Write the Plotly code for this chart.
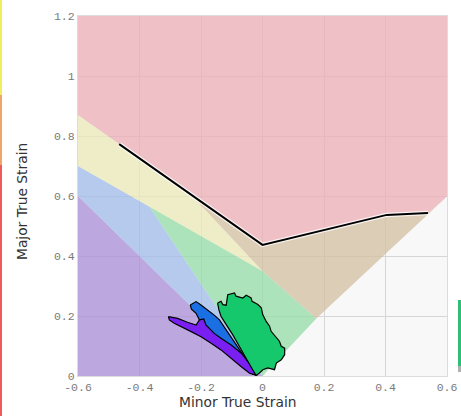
import plotly.graph_objects as go

# ---------------- data ----------------
x_ticks = [-0.6, -0.4, -0.2, 0, 0.2, 0.4, 0.6]
x_tick_labels = ["-0.6", "-0.4", "-0.2", "0", "0.2", "0.4", "0.6"]
y_ticks = [0, 0.2, 0.4, 0.6, 0.8, 1.0, 1.2]
y_tick_labels = ["0", "0.2", "0.4", "0.6", "0.8", "1", "1.2"]

x_title = "Minor True Strain"
y_title = "Major True Strain"

# forming limit curve
flc_x = [-0.466, 0.0, 0.404, 0.538]
flc_y = [0.773, 0.437, 0.537, 0.543]

# zones of the forming limit diagram
fail_x = [-0.6, 0.6, 0.6, 0.593, 0.538, 0.404, 0.0, -0.466, -0.6]
fail_y = [1.2, 1.2, 0.6, 0.592, 0.543, 0.537, 0.437, 0.773, 0.87]
thin_x = [-0.232, 0.0, 0.404, 0.538, 0.593, 0.175, 0.0]
thin_y = [0.604, 0.437, 0.537, 0.543, 0.592, 0.192, 0.35]
risk_x = [-0.6, -0.466, -0.232, 0.0, -0.6]
risk_y = [0.87, 0.773, 0.604, 0.35, 0.70]
safe_x = [-0.368, 0.0, 0.175, 0.0]
safe_y = [0.565, 0.0, 0.192, 0.35]
low_x = [-0.6, -0.6, -0.368, 0.0]
low_y = [0.6, 0.70, 0.565, 0.0]
wrinkle_x = [-0.6, -0.6, 0.0]
wrinkle_y = [0.0, 0.6, 0.0]

# measured strain clouds (outlines)
blue_x = [-0.235, -0.216, -0.200, -0.178, -0.157, -0.140, -0.118, -0.097, -0.075, -0.053,
          -0.032, -0.017, -0.032, -0.053, -0.081, -0.113, -0.146, -0.173, -0.195, -0.205,
          -0.216, -0.231]
blue_y = [0.237, 0.248, 0.237, 0.220, 0.203, 0.187, 0.153, 0.120, 0.087, 0.053,
          0.023, 0.003, 0.006, 0.031, 0.059, 0.092, 0.126, 0.148, 0.164, 0.187,
          0.209, 0.223]
purple_x = [-0.306, -0.276, -0.244, -0.216, -0.205, -0.191, -0.184, -0.157, -0.135, -0.102,
            -0.069, -0.042, -0.024, -0.021, -0.042, -0.069, -0.102, -0.135, -0.167, -0.200,
            -0.232, -0.265, -0.287, -0.303]
purple_y = [0.198, 0.192, 0.179, 0.170, 0.187, 0.190, 0.170, 0.142, 0.126, 0.103,
            0.076, 0.042, 0.017, 0.003, 0.009, 0.031, 0.059, 0.087, 0.109, 0.131,
            0.148, 0.164, 0.176, 0.187]
green_x = [-0.146, -0.135, -0.129, -0.118, -0.113, -0.091, -0.086, -0.064, -0.053, -0.037,
           -0.034, -0.015, -0.004, 0.001, 0.012, 0.023, 0.028, 0.045, 0.055, 0.061,
           0.072, 0.072, 0.061, 0.045, 0.039, 0.017, 0.001, -0.010, -0.021, -0.032,
           -0.053, -0.075, -0.097, -0.118, -0.135, -0.142]
green_y = [0.243, 0.249, 0.238, 0.236, 0.271, 0.277, 0.266, 0.260, 0.269, 0.260,
           0.249, 0.238, 0.227, 0.204, 0.182, 0.166, 0.149, 0.127, 0.116, 0.099,
           0.093, 0.071, 0.054, 0.043, 0.021, 0.027, 0.021, 0.010, 0.002, 0.021,
           0.060, 0.099, 0.138, 0.171, 0.199, 0.221]

BG = (248, 248, 248)
ALPHA = 0.78


def zone_color(rgb):
    c = [max(0, min(255, round((t - (1 - ALPHA) * b) / ALPHA))) for t, b in zip(rgb, BG)]
    return f"rgba({c[0]},{c[1]},{c[2]},{ALPHA})"


fig = go.Figure()

zones = [
    (wrinkle_x, wrinkle_y, (188, 166, 222)),
    (low_x, low_y, (180, 201, 236)),
    (safe_x, safe_y, (172, 226, 186)),
    (risk_x, risk_y, (238, 236, 198)),
    (thin_x, thin_y, (220, 204, 182)),
    (fail_x, fail_y, (239, 193, 198)),
]
for zx, zy, col in zones:
    fig.add_trace(go.Scatter(x=zx, y=zy, mode="lines", fill="toself",
                             fillcolor=zone_color(col), line=dict(width=0),
                             hoverinfo="skip", showlegend=False))

# forming limit curve with light halo
fig.add_trace(go.Scatter(x=flc_x, y=flc_y, mode="lines",
                         line=dict(color="rgba(255,255,255,0.8)", width=4.5),
                         hoverinfo="skip", showlegend=False))
fig.add_trace(go.Scatter(x=flc_x, y=flc_y, mode="lines",
                         line=dict(color="black", width=2),
                         showlegend=False))

for cx, cy, col in [(blue_x, blue_y, "#1a70e2"),
                    (purple_x, purple_y, "#7a1ff2"),
                    (green_x, green_y, "#16c86c")]:
    fig.add_trace(go.Scatter(x=cx + cx[:1], y=cy + cy[:1], mode="lines", fill="toself",
                             fillcolor=col, line=dict(color="black", width=1.2),
                             showlegend=False))

# cropped neighbouring widgets at the picture edges
edge_shapes = [
    dict(x0=-0.2114, x1=-0.2060, y0=1.0444, y1=0.7806, color="#f2ee60"),
    dict(x0=-0.2114, x1=-0.2060, y0=0.7806, y1=0.5861, color="#f2a468"),
    dict(x0=-0.2114, x1=-0.2060, y0=0.5861, y1=-0.1111, color="#f05a5a"),
    dict(x0=1.0298, x1=1.0380, y0=0.2111, y1=0.0278, color="#2fbf72"),
    dict(x0=1.0298, x1=1.0380, y0=0.0278, y1=0.0111, color="#b0b0b0"),
]
shapes = [dict(type="rect", xref="paper", yref="paper", x0=s["x0"], x1=s["x1"],
               y0=s["y0"], y1=s["y1"], fillcolor=s["color"], line=dict(width=0),
               layer="above") for s in edge_shapes]

tick_font = dict(family="Liberation Mono, Courier New, monospace", size=11.5, color="#7a7a7a")
title_font = dict(family="DejaVu Sans, Verdana, sans-serif", size=13.8, color="#333333")

annotations = [
    dict(text=x_title, xref="paper", yref="paper", x=0.4336, y=-0.0722,
         xanchor="center", yanchor="middle", showarrow=False, font=title_font),
    dict(text=y_title, xref="paper", yref="paper", x=-0.1518, y=0.486,
         xanchor="center", yanchor="middle", showarrow=False, font=title_font,
         textangle=-90),
]

fig.update_layout(
    width=461, height=416,
    margin=dict(l=78, r=14, t=16, b=40, autoexpand=False),
    paper_bgcolor="white",
    plot_bgcolor=f"rgb{BG}",
    shapes=shapes,
    annotations=annotations,
    xaxis=dict(range=[-0.6, 0.6], tickvals=x_ticks, ticktext=x_tick_labels,
               showgrid=True, gridcolor="#d6d6d6", gridwidth=1, zeroline=False,
               showline=True, linecolor="#dcdcdc", mirror=True, ticks="",
               tickfont=tick_font, automargin=False),
    yaxis=dict(range=[0, 1.2], tickvals=y_ticks, ticktext=y_tick_labels,
               showgrid=True, gridcolor="#d6d6d6", gridwidth=1, zeroline=False,
               showline=True, linecolor="#dcdcdc", mirror=True, ticks="",
               tickfont=tick_font, automargin=False),
)

fig.write_html("out.html",
               config={"displayModeBar": False},
               post_script="document.body.style.margin='0';document.body.style.overflow='hidden';")
